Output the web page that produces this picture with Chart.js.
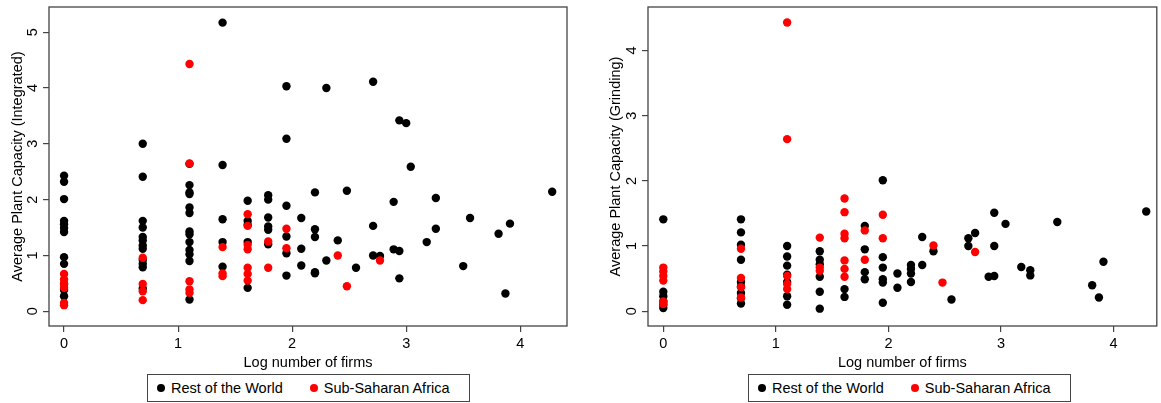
<!DOCTYPE html>
<html>
<head>
<meta charset="utf-8">
<script src="https://cdn.jsdelivr.net/npm/chart.js@4/dist/chart.umd.min.js"></script>
<style>
  html, body { margin: 0; padding: 0; background: #fff; }
  body { width: 1161px; height: 403px; position: relative; overflow: hidden; font-family: "Liberation Sans", Arial, sans-serif; }
  .panel { position: absolute; top: 0; height: 372px; }
  .legend {
    position: absolute; top: 374px; height: 28px; box-sizing: border-box;
    border: 1px solid #444; background: #fff;
    display: flex; align-items: center; font-size: 14.5px; color: #000;
  }
  .legend span.dot { display: inline-block; width: 8px; height: 8px; border-radius: 50%; margin-right: 6px; }
  .legend .item { display: flex; align-items: center; }
</style>
</head>
<body>
<div class="panel" style="left:0; width:575px;"><canvas id="intChart"></canvas></div>
<div class="panel" style="left:598px; width:563px;"><canvas id="grdChart"></canvas></div>

<div class="legend" style="left:147px; width:323px;">
  <div class="item" style="margin-left:9px;"><span class="dot" style="background:#000"></span>Rest of the World</div>
  <div class="item" style="margin-left:27px;"><span class="dot" style="background:#ff0000"></span>Sub-Saharan Africa</div>
</div>
<div class="legend" style="left:748px; width:323px;">
  <div class="item" style="margin-left:9px;"><span class="dot" style="background:#000"></span>Rest of the World</div>
  <div class="item" style="margin-left:27px;"><span class="dot" style="background:#ff0000"></span>Sub-Saharan Africa</div>
</div>

<script>
// Log number of firms (x) and average plant capacity (y)
const seriesNames = ['Rest of the World', 'Sub-Saharan Africa'];
const seriesColors = ['#000000', '#ff0000'];
const xTicks = [0, 1, 2, 3, 4];

// Integrated - Rest of the World
const intRowX = [
  0, 0, 0, 0, 0, 0, 0, 0, 0, 0, 0, 0,
  0.69, 0.69, 0.69, 0.69, 0.69, 0.69, 0.69, 0.69, 0.69, 0.69, 0.69, 0.69,
  1.10, 1.10, 1.10, 1.10, 1.10, 1.10, 1.10, 1.10, 1.10, 1.10, 1.10, 1.10, 1.10,
  1.39, 1.39, 1.39, 1.39, 1.39,
  1.61, 1.61, 1.61, 1.61, 1.61,
  1.79, 1.79, 1.79, 1.79, 1.79, 1.79,
  1.95, 1.95, 1.95, 1.95, 1.95, 1.95,
  2.08, 2.08, 2.08,
  2.20, 2.20, 2.20, 2.20, 2.20,
  2.30, 2.30,
  2.40, 2.48, 2.56,
  2.71, 2.71, 2.71,
  2.77,
  2.89, 2.89,
  2.94, 2.94, 2.94,
  3.00, 3.04, 3.18,
  3.26, 3.26,
  3.50, 3.56, 3.81, 3.87, 3.91, 4.28
];
const intRowY = [
  2.43, 2.32, 2.01, 1.62, 1.56, 1.49, 1.42, 0.97, 0.85, 0.49, 0.38, 0.27,
  3.00, 2.41, 1.62, 1.50, 1.33, 1.27, 1.18, 1.12, 0.92, 0.85, 0.79, 0.41,
  2.64, 2.26, 2.13, 2.10, 1.86, 1.76, 1.43, 1.38, 1.24, 1.10, 1.02, 0.90, 0.21,
  5.17, 2.62, 1.65, 1.24, 0.80,
  1.98, 1.62, 1.55, 1.24, 0.42,
  2.08, 2.00, 1.68, 1.52, 1.46, 1.20,
  4.03, 3.09, 1.89, 1.34, 1.04, 0.64,
  1.67, 1.12, 0.82,
  2.13, 1.47, 1.33, 0.70, 0.68,
  4.00, 0.91,
  1.27, 2.16, 0.78,
  4.11, 1.53, 1.00,
  0.99,
  1.96, 1.11,
  3.42, 1.08, 0.59,
  3.37, 2.59, 1.24,
  2.03, 1.48,
  0.81, 1.67, 1.39, 0.32, 1.57, 2.14
];

// Integrated - Sub-Saharan Africa
const intSsaX = [
  0, 0, 0, 0, 0, 0,
  0.69, 0.69, 0.69, 0.69,
  1.10, 1.10, 1.10, 1.10, 1.10,
  1.39, 1.39, 1.39,
  1.61, 1.61, 1.61, 1.61, 1.61, 1.61, 1.61,
  1.79, 1.79,
  1.95, 1.95,
  2.40, 2.48, 2.77
];
const intSsaY = [
  0.67, 0.57, 0.49, 0.42, 0.15, 0.11,
  0.96, 0.49, 0.36, 0.20,
  4.43, 2.65, 0.54, 0.39, 0.33,
  1.15, 0.68, 0.63,
  1.74, 1.53, 1.19, 1.11, 0.78, 0.67, 0.55,
  1.25, 0.78,
  1.48, 1.13,
  1.00, 0.45, 0.91
];

// Grinding - Rest of the World
const grdRowX = [
  0, 0, 0, 0, 0, 0,
  0.69, 0.69, 0.69, 0.69, 0.69, 0.69, 0.69, 0.69, 0.69,
  1.10, 1.10, 1.10, 1.10, 1.10, 1.10, 1.10,
  1.39, 1.39, 1.39, 1.39, 1.39, 1.39,
  1.61, 1.61,
  1.79, 1.79, 1.79, 1.79,
  1.95, 1.95, 1.95, 1.95, 1.95, 1.95,
  2.08, 2.08,
  2.20, 2.20, 2.20, 2.20,
  2.30, 2.30,
  2.40, 2.56,
  2.71, 2.71,
  2.77, 2.89,
  2.94, 2.94, 2.94,
  3.04, 3.18,
  3.26, 3.26,
  3.50, 3.81, 3.87, 3.91, 4.29
];
const grdRowY = [
  1.41, 0.30, 0.23, 0.15, 0.10, 0.05,
  1.41, 1.21, 1.02, 0.79, 0.45, 0.38, 0.28, 0.20, 0.12,
  1.00, 0.84, 0.70, 0.56, 0.45, 0.23, 0.10,
  0.92, 0.79, 0.72, 0.53, 0.30, 0.04,
  0.34, 0.22,
  1.31, 0.95, 0.60, 0.49,
  2.01, 0.83, 0.67, 0.49, 0.44, 0.13,
  0.58, 0.36,
  0.71, 0.65, 0.58, 0.45,
  1.14, 0.71,
  0.92, 0.18,
  1.12, 1.00,
  1.20, 0.53,
  1.51, 1.00, 0.54,
  1.34, 0.68,
  0.63, 0.55,
  1.37, 0.40, 0.21, 0.76, 1.53
];

// Grinding - Sub-Saharan Africa
const grdSsaX = [
  0, 0, 0, 0, 0, 0,
  0.69, 0.69, 0.69, 0.69,
  1.10, 1.10, 1.10, 1.10, 1.10,
  1.39, 1.39, 1.39,
  1.61, 1.61, 1.61, 1.61, 1.61, 1.61, 1.61,
  1.79, 1.79,
  1.95, 1.95,
  2.40, 2.48, 2.77
];
const grdSsaY = [
  0.67, 0.61, 0.54, 0.47, 0.15, 0.11,
  0.96, 0.51, 0.37, 0.21,
  4.43, 2.64, 0.54, 0.42, 0.34,
  1.13, 0.67, 0.62,
  1.73, 1.52, 1.19, 1.12, 0.78, 0.65, 0.53,
  1.24, 0.79,
  1.48, 1.12,
  1.01, 0.44, 0.91
];

const toPoints = (xs, ys) => xs.map((x, i) => ({ x: x, y: ys[i] }));

// box round the plot region, like Stata's plotregion outline
const framePlugin = {
  id: 'frame',
  beforeDatasetsDraw(chart) {
    const a = chart.chartArea;
    const c = chart.ctx;
    c.save();
    c.strokeStyle = '#444';
    c.lineWidth = 1.3;
    c.strokeRect(a.left, a.top, a.right - a.left, a.bottom - a.top);
    c.restore();
  }
};

const tickFont = { family: '"Liberation Sans", Arial, sans-serif', size: 14.5 };

// no extra room for tick labels, the plot box is placed by hand
function noPad(scale) {
  scale.paddingTop = 0;
  scale.paddingBottom = 0;
  scale.paddingLeft = 0;
  scale.paddingRight = 0;
}

function makeChart(id, title, rowX, rowY, ssaX, ssaY, xr, yr, yAxisWidth, padRight) {
  const ctx = document.getElementById(id).getContext('2d');
  return new Chart(ctx, {
    type: 'scatter',
    data: {
      datasets: [
        {
          label: seriesNames[0],
          data: toPoints(rowX, rowY),
          backgroundColor: seriesColors[0],
          borderWidth: 0,
          pointRadius: 4.2,
          order: 2
        },
        {
          label: seriesNames[1],
          data: toPoints(ssaX, ssaY),
          backgroundColor: seriesColors[1],
          borderWidth: 0,
          pointRadius: 4.2,
          order: 1
        }
      ]
    },
    options: {
      responsive: true,
      maintainAspectRatio: false,
      animation: false,
      layout: { padding: { top: 7, right: padRight, left: 0, bottom: 0 } },
      plugins: {
        legend: { display: false },
        tooltip: { enabled: false }
      },
      scales: {
        x: {
          type: 'linear',
          min: xr[0],
          max: xr[1],
          afterBuildTicks: scale => { scale.ticks = xTicks.map(v => ({ value: v })); },
          afterFit: scale => { scale.height = 46; noPad(scale); },
          border: { display: false },
          grid: { drawOnChartArea: false, drawTicks: true, tickLength: 6, color: '#444', lineWidth: 1.2 },
          ticks: { color: '#000', font: tickFont, padding: 3, maxRotation: 0 },
          title: {
            display: true,
            text: 'Log number of firms',
            color: '#000',
            font: tickFont,
            padding: { top: 0, bottom: 0 }
          }
        },
        y: {
          type: 'linear',
          min: yr[0],
          max: yr[1],
          afterBuildTicks: scale => {
            const t = [];
            for (let v = 0; v <= Math.floor(yr[1]); v++) t.push({ value: v });
            scale.ticks = t;
          },
          afterFit: scale => { scale.width = yAxisWidth; noPad(scale); },
          border: { display: false },
          grid: { drawOnChartArea: false, drawTicks: true, tickLength: 6, color: '#444', lineWidth: 1.2 },
          ticks: { color: '#000', font: tickFont, padding: 6, minRotation: 90, maxRotation: 90, crossAlign: 'center' },
          title: {
            display: true,
            text: title,
            color: '#000',
            font: tickFont,
            padding: { top: 9, bottom: 0 }
          }
        }
      }
    },
    plugins: [framePlugin]
  });
}

makeChart('intChart', 'Average Plant Capacity (Integrated)',
  intRowX, intRowY, intSsaX, intSsaY, [-0.132, 4.41], [-0.263, 5.45], 49, 8);
makeChart('grdChart', 'Average Plant Capacity (Grinding)',
  grdRowX, grdRowY, grdSsaX, grdSsaY, [-0.136, 4.384], [-0.226, 4.667], 50, 0);
</script>
</body>
</html>
